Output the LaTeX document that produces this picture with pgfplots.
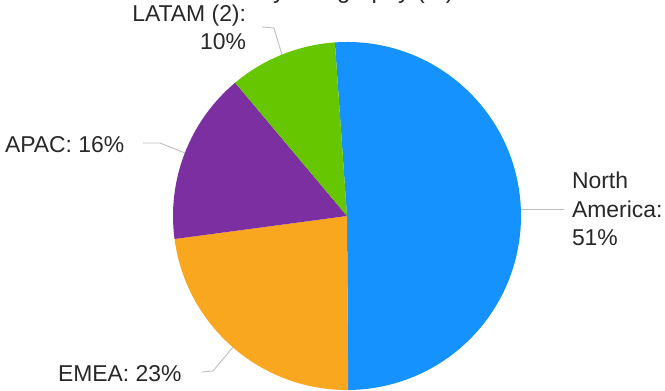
\documentclass[border=0pt]{standalone}
\usepackage{pgfplots}
\usepackage{pgfplotstable}
\pgfplotsset{compat=1.18}
\usepackage{fontspec}
\setmainfont{Liberation Sans}
\definecolor{cNA}{RGB}{22,146,255}
\definecolor{cEMEA}{RGB}{249,167,30}
\definecolor{cAPAC}{RGB}{123,47,160}
\definecolor{cLATAM}{RGB}{102,198,0}
\definecolor{txt}{RGB}{40,40,40}
\definecolor{lead}{RGB}{190,190,190}

\pgfplotstableread{
region value
NA 51
EMEA 23
APAC 16
LATAM 10
}\pietable

\begin{document}
\begin{tikzpicture}
\pgfplotstablegetelem{0}{value}\of\pietable \let\vNA\pgfplotsretval
\pgfplotstablegetelem{1}{value}\of\pietable \let\vEMEA\pgfplotsretval
\pgfplotstablegetelem{2}{value}\of\pietable \let\vAPAC\pgfplotsretval
\pgfplotstablegetelem{3}{value}\of\pietable \let\vLATAM\pgfplotsretval
\pgfmathsetmacro\aS{94}
\pgfmathsetmacro\aA{\aS-3.6*\vNA}
\pgfmathsetmacro\aB{\aA-3.6*\vEMEA}
\pgfmathsetmacro\aC{\aB-3.6*\vAPAC}
\pgfmathsetmacro\aD{\aC-3.6*\vLATAM}
\begin{axis}[
  at={(0,0)}, anchor=south west,
  scale only axis, width=665bp, height=391bp,
  xmin=0, xmax=665, ymin=0, ymax=391,
  axis lines=none, clip=false,
]
\fill[cNA] (axis cs:347,175) -- ++(\aS:174bp) arc[start angle=\aS, end angle=\aA, radius=174bp] -- cycle;
\fill[cEMEA] (axis cs:347,175) -- ++(\aA:174bp) arc[start angle=\aA, end angle=\aB, radius=174bp] -- cycle;
\fill[cAPAC] (axis cs:347,175) -- ++(\aB:174bp) arc[start angle=\aB, end angle=\aC, radius=174bp] -- cycle;
\fill[cLATAM] (axis cs:347,175) -- ++(\aC:174bp) arc[start angle=\aC, end angle=\aD, radius=174bp] -- cycle;

\draw[lead, line width=0.9bp] (axis cs:262,364) -- (axis cs:274,363) -- (axis cs:282,336);
\draw[lead, line width=0.9bp] (axis cs:143,248) -- (axis cs:160,248) -- (axis cs:185,238);
\draw[lead, line width=0.9bp] (axis cs:202,19) -- (axis cs:213,20) -- (axis cs:233,44);
\draw[lead, line width=0.9bp] (axis cs:521,182) -- (axis cs:564,182);

\begin{scope}[every node/.style={inner sep=0pt, outer sep=0pt, text=txt, font=\fontsize{23}{28}\selectfont}]
\node[anchor=base east] at (axis cs:246,369) {LATAM (2):};
\node[anchor=base east] at (axis cs:246,341) {10\%};
\node[anchor=base west] at (axis cs:5,238) {APAC: 16\%};
\node[anchor=base west] at (axis cs:58,10) {EMEA: 23\%};
\node[anchor=base west] at (axis cs:572,202) {North};
\node[anchor=base west] at (axis cs:572,173.5) {America:};
\node[anchor=base west] at (axis cs:572,145) {51\%};
\node[anchor=base east, font=\fontsize{24}{28}\selectfont] at (axis cs:454,392) {Revenue by Geography (\%)};
\end{scope}
\end{axis}
\pgfresetboundingbox
\path[use as bounding box] (0,0) rectangle (665bp,391bp);
\end{tikzpicture}
\end{document}
